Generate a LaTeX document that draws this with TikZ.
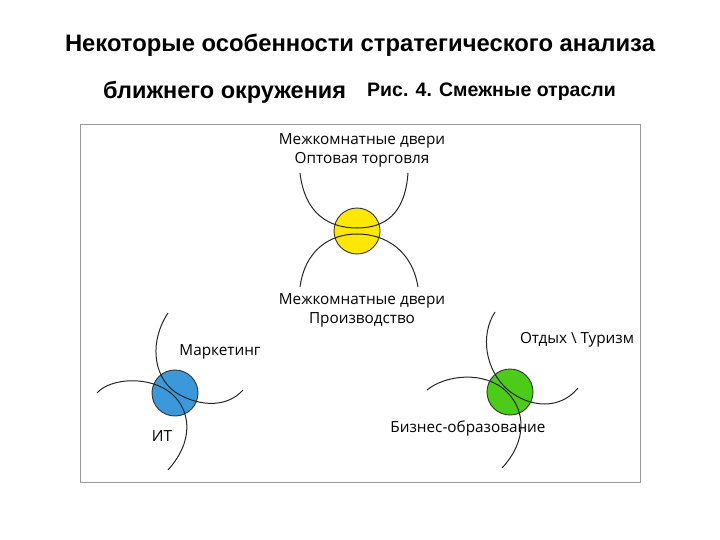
\documentclass[tikz,border=0pt]{standalone}
\usepackage{fontspec}
\setmainfont{Liberation Sans}
\newfontfamily\lab{Open Sans}
\begin{document}
\begin{tikzpicture}[x=1pt,y=-1pt,
  lbl/.style={font=\lab\fontsize{15.3}{19}\selectfont, align=center, inner sep=0},
  arc/.style={draw=black!85, line width=1pt},
  ball/.style={circle, draw=black!80, line width=0.9pt, minimum size=46pt, inner sep=0}]
\useasboundingbox (0,0) rectangle (720,540);
\node[font=\bfseries\fontsize{23.8}{26}\selectfont, inner sep=0] (t1) at (360,45) {Некоторые особенности стратегического анализа};
\node[font=\bfseries\fontsize{23.5}{26}\selectfont, inner sep=0, anchor=west] (t2) at (103,92) {ближнего окружения};
\node[font=\bfseries\fontsize{19.5}{22}\selectfont, inner sep=0, anchor=west] (t3) at (367,92) {Рис. 4. Смежные отрасли};
\draw[black!40, line width=1pt] (80,125) rectangle (640,482);
% yellow
\node[ball, fill=yellow!90!orange] (y) at (357,231) {};
\draw[arc] (300,173) .. controls (305,215) and (330,228) .. (357,228) .. controls (384,228) and (405,215) .. (408,173);
\draw[arc] (300,287) .. controls (305,250) and (330,234) .. (357,234) .. controls (385,234) and (412,250) .. (418,287);
\node[lbl] (yl1) at (362,150) {Межкомнатные двери\\Оптовая торговля};
\node[lbl] (yl2) at (362,310) {Межкомнатные двери\\Производство};
% blue
\node[ball, fill=cyan!70!blue!80] (b) at (175,393) {};
\draw[arc] (168,313) .. controls (150,340) and (152,375) .. (175,392) .. controls (195,405) and (225,410) .. (243,390);
\draw[arc] (97,393) .. controls (110,378) and (150,375) .. (172,394) .. controls (190,410) and (195,440) .. (168,470);
\node[lbl] (bl1) at (220,352) {Маркетинг};
\node[lbl] (bl2) at (162,436) {ИТ};
% green
\node[ball, fill=green!55!olive!90] (g) at (510,392) {};
\draw[arc] (495,312) .. controls (480,335) and (485,370) .. (508,390) .. controls (530,408) and (560,410) .. (578,388);
\draw[arc] (427,390) .. controls (445,375) and (485,370) .. (507,392) .. controls (525,410) and (528,440) .. (502,468);
\node[lbl] (gl1) at (577,340) {Отдых \textbackslash{} Туризм};
\node[lbl] (gl2) at (468,428) {Бизнес-образование};
\end{tikzpicture}
\end{document}
